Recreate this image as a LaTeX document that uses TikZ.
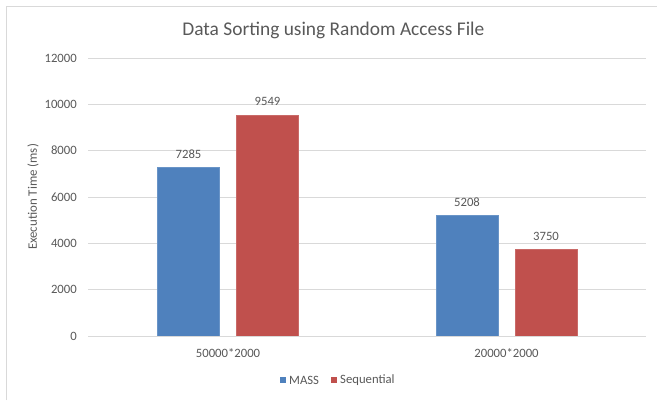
\documentclass[tikz,border=0pt]{standalone}
\usepackage{fontspec}
\setmainfont{Carlito}
\definecolor{massblue}{HTML}{4F81BD}
\definecolor{seqred}{HTML}{C0504D}
\definecolor{gridgray}{HTML}{D9D9D9}
\definecolor{txtgray}{HTML}{595959}
\begin{document}
\begin{tikzpicture}[x=1pt,y=-1pt,
  grid/.style={draw=gridgray,line width=0.8pt},
  tick/.style={font=\fontsize{12.7}{14}\selectfont,text=txtgray,anchor=east,inner sep=0pt},
  val/.style={font=\fontsize{12.7}{14}\selectfont,text=txtgray,inner sep=0pt},
  cat/.style={font=\fontsize{12.7}{14}\selectfont,text=txtgray,inner sep=0pt},
  massbar/.style={fill=massblue,draw=massblue!85!white,line width=0.5pt},
  seqbar/.style={fill=seqred,draw=seqred!85!white,line width=0.5pt}]
\useasboundingbox (0,0) rectangle (657,400);
\fill[white] (0,0) rectangle (657,400);
% chart border
\draw[draw=gridgray,line width=1pt] (6,400) -- (6,6) -- (657,6);
% title
\node[font=\fontsize{19.4}{22}\selectfont,text=txtgray,inner sep=0pt] (title) at (333.4,30) {Data Sorting using Random Access File};
% grid lines and tick labels
\foreach \v [count=\i from 0] in {0,2000,4000,6000,8000,10000,12000} {
  \pgfmathsetmacro{\yy}{336-\i*46.333}
  \draw[grid] (88,\yy) -- (646,\yy);
  \node[tick] (t\i) at (77,\yy) {\v};
}
% axis title
\node[rotate=90,font=\fontsize{12.9}{14}\selectfont,text=txtgray,inner sep=0pt] (ytitle) at (33,197) {Execution Time (ms)};
% bars
\pgfmathsetmacro{\sc}{46.333/2000}
\fill[massbar] (157.5,336) rectangle (219.5,{336-7285*\sc});
\fill[seqbar] (236.5,336) rectangle (298.5,{336-9549*\sc});
\fill[massbar] (436,336) rectangle (498,{336-5208*\sc});
\fill[seqbar] (515,336) rectangle (577,{336-3750*\sc});
\draw[grid] (88,336) -- (646,336);
% value labels
\node[val] (v1) at (188.5,{336-7285*\sc-13}) {7285};
\node[val] (v2) at (267.5,{336-9549*\sc-13}) {9549};
\node[val] (v3) at (467,{336-5208*\sc-13}) {5208};
\node[val] (v4) at (546,{336-3750*\sc-13}) {3750};
% category labels
\node[cat] (c1) at (228,353) {50000*2000};
\node[cat] (c2) at (506.5,353) {20000*2000};
% legend
\fill[massblue] (279.5,377) rectangle (285.5,383);
\node[cat,anchor=west] (l1) at (289,380) {MASS};
\fill[seqred] (330.5,377) rectangle (336.5,383);
\node[cat,anchor=west] (l2) at (340,380) {Sequential};
\end{tikzpicture}
\end{document}
